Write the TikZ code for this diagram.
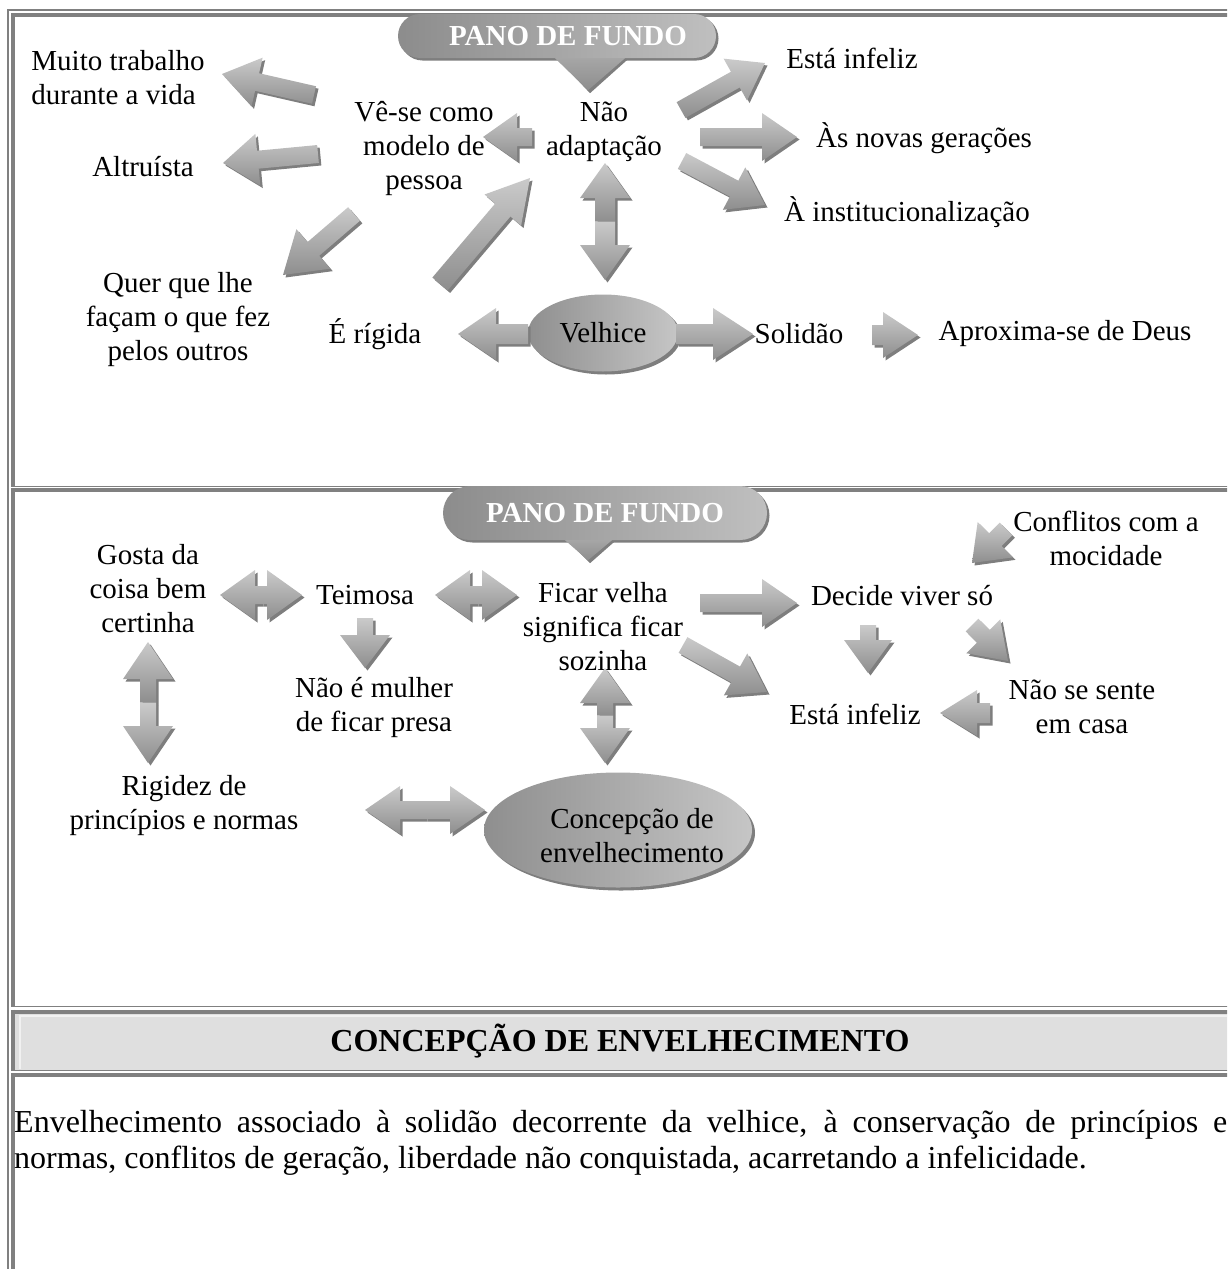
\documentclass[tikz,border=0pt]{standalone}
\usepackage{fontspec}
\setmainfont{Liberation Serif}
\usetikzlibrary{calc,shapes.geometric,shadows}

\definecolor{arrowlight}{HTML}{CACACA}
\definecolor{arrowdark}{HTML}{8E8E8E}
\definecolor{arrowshadow}{HTML}{7E7E7E}
\definecolor{bordergray}{HTML}{808080}
\definecolor{headfill}{HTML}{DFDFDF}

% block arrow: tail, tip, half shaft, half head, head length
\newcommand{\blkarrow}[5]{%
  \coordinate (ba-a) at #1;
  \coordinate (ba-b) at #2;
  \coordinate (ba-h) at ($(ba-b)!#5pt!(ba-a)$);
  \fill[arrowshadow,transform canvas={shift={(2.5pt,-2.5pt)}}] ($(ba-a)!#3pt!90:(ba-b)$) -- ($(ba-h)!#3pt!90:(ba-b)$) -- ($(ba-h)!#4pt!90:(ba-b)$) -- (ba-b) -- ($(ba-h)!#4pt!-90:(ba-b)$) -- ($(ba-h)!#3pt!-90:(ba-b)$) -- ($(ba-a)!#3pt!-90:(ba-b)$) -- cycle;
  \shade[top color=arrowlight,bottom color=arrowdark] ($(ba-a)!#3pt!90:(ba-b)$) -- ($(ba-h)!#3pt!90:(ba-b)$) -- ($(ba-h)!#4pt!90:(ba-b)$) -- (ba-b) -- ($(ba-h)!#4pt!-90:(ba-b)$) -- ($(ba-h)!#3pt!-90:(ba-b)$) -- ($(ba-a)!#3pt!-90:(ba-b)$) -- cycle;
}
% two heads, drawn from the middle outwards
\newcommand{\dblarrow}[5]{%
  \coordinate (da-a) at #1;
  \coordinate (da-b) at #2;
  \coordinate (da-m) at ($(da-a)!0.5!(da-b)$);
  \blkarrow{(da-m)}{(da-a)}{#3}{#4}{#5}
  \blkarrow{(da-m)}{(da-b)}{#3}{#4}{#5}
}
\hyphenpenalty=10000

\begin{document}
\begin{tikzpicture}[x=1pt,y=-1pt,
  lbl/.style={font=\fontsize{29}{34}\selectfont,align=center,inner sep=0pt},
  pill/.style={rounded corners=22pt,minimum width=318pt,minimum height=44pt,inner sep=0pt,
    left color=gray!90,right color=gray!50,text=white,font=\fontsize{29}{34}\selectfont\bfseries,
    drop shadow={shadow xshift=2.5pt,shadow yshift=-2.5pt,fill=arrowshadow,opacity=1}},
  oval/.style={ellipse,inner sep=0pt,left color=gray!88,right color=gray!45,
    font=\fontsize{29}{34}\selectfont,
    drop shadow={shadow xshift=3pt,shadow yshift=-3pt,fill=arrowshadow,opacity=1}}]
\useasboundingbox (0,0) rectangle (1227,1269);
% table frame
\begin{scope}
\clip (0,0) rectangle (1227,1269);
\draw[bordergray,line width=2pt] (8,1300) -- (8,10) -- (1300,10);
\fill[headfill] (15,1013.5) rectangle (1300,1069.5);
\draw[white!55!headfill,line width=1.5pt] (20,1069) -- (20,1016) -- (1300,1016);
\foreach \t/\b in {15/486.5,490/1006.5,1011.5/1070.5,1075/1300} {
  \draw[bordergray,line width=4pt] (11,\t) -- (1300,\t);
  \draw[bordergray,line width=4pt] (13,\t-2) -- (13,\b);
  \draw[bordergray,line width=1.5pt] (11,\b) -- (1300,\b);
}
\end{scope}

% first diagram
\node[pill] (pano1) at (557,36) {\hspace*{22pt}PANO DE FUNDO};
\fill[arrowshadow] ($(pano1.south)+(1,1)$) -- ($(pano1.south)+(71,1)$) -- ($(pano1.south)+(33,35)$) -- cycle;
\shade[top color=gray!70,bottom color=arrowdark] ($(pano1.south)+(-2,0)$) -- ($(pano1.south)+(68,0)$) -- ($(pano1.south)+(31,32)$) -- cycle;
\node[lbl] (nao) at (604,132) {Não\\adaptação};
\node[lbl] (vese) at (424,148) {Vê-se como\\modelo de\\pessoa};
\node[lbl,align=left] (muito) at (118,78) {Muito trabalho\\durante a vida};
\node[lbl] (altruista) at (143,167) {Altruísta};
\node[lbl] (quer) at (178,320) {Quer que lhe\\façam o que fez\\pelos outros};
\node[lbl] (rigida) at (375,334) {É rígida};
\node[oval,minimum width=150pt,minimum height=77pt] (velhice) at (603,333) {Velhice};
\node[lbl] (solidao) at (799,334) {Solidão};
\node[lbl] (deus) at (1065,334) {Aproxima-se de Deus};
\node[lbl] (infeliz) at (852,58) {Está infeliz};
\node[lbl] (novas) at (924,138) {Às novas gerações};
\node[lbl] (inst) at (907,212) {À institucionalização};
\blkarrow{($(nao)+(-72,5)$)}{($(vese)+(59,-11)$)}{9}{24}{34}
\blkarrow{($(vese)+(-110,-53)$)}{($(muito)+(104,-4)$)}{9}{25}{36}
\blkarrow{($(vese)+(-106,6)$)}{($(altruista)+(80,-4)$)}{9}{26}{35}
\blkarrow{($(vese)+(-70,66)$)}{($(quer)+(105,-45)$)}{9}{26}{40}
\blkarrow{($(rigida)+(65,-50)$)}{($(nao)+(-74,46)$)}{10}{24}{42}
\dblarrow{($(nao)+(1,31)$)}{($(velhice)+(2,-53)$)}{10}{25}{35}
\blkarrow{($(velhice)+(-75,1)$)}{($(rigida)+(83,0)$)}{10}{26}{38}
\blkarrow{($(velhice)+(73,1)$)}{($(solidao)+(-46,0)$)}{10}{26}{40}
\blkarrow{($(solidao)+(73,1)$)}{($(deus)+(-147,1)$)}{10}{23}{35}
\blkarrow{($(nao)+(77,-22)$)}{($(infeliz)+(-87,5)$)}{9}{24}{34}
\blkarrow{($(nao)+(96,5)$)}{($(novas)+(-127,-1)$)}{9}{24}{35}
\blkarrow{($(nao)+(78,29)$)}{($(inst)+(-142,-7)$)}{9}{24}{35}

% second diagram
\node[pill,minimum width=324pt,minimum height=54pt,rounded corners=27pt] (pano2) at (605,513) {PANO DE FUNDO};
\fill[arrowshadow] ($(pano2.south)+(-37,1)$) -- ($(pano2.south)+(10,1)$) -- ($(pano2.south)+(-15,23)$) -- cycle;
\shade[top color=gray!70,bottom color=arrowdark] ($(pano2.south)+(-40,0)$) -- ($(pano2.south)+(7,0)$) -- ($(pano2.south)+(-17,20)$) -- cycle;
\node[lbl] (ficar) at (603,627) {Ficar velha\\significa ficar\\sozinha};
\node[lbl] (teimosa) at (365,595) {Teimosa};
\node[lbl] (gosta) at (148,589) {Gosta da\\coisa bem\\certinha};
\node[lbl] (naoe) at (374,707) {Não é mulher\\de ficar presa};
\node[lbl] (rigidez) at (184,806) {Rigidez de\\princípios e normas};
\node[oval,minimum width=268pt,minimum height=115pt] (concepcao) at (618,830) {};
\node[lbl] (concepcaotxt) at (632,836) {Concepção de\\envelhecimento};
\node[lbl] (decide) at (902,596) {Decide viver só};
\node[lbl] (infeliz2) at (855,714) {Está infeliz};
\node[lbl] (conflitos) at (1106,538) {Conflitos com a\\mocidade};
\node[lbl] (naosente) at (1082,707) {Não se sente\\em casa};
\dblarrow{($(gosta)+(72,6)$)}{($(teimosa)+(-63,0)$)}{9}{25}{35}
\dblarrow{($(teimosa)+(70,0)$)}{($(ficar)+(-86,-32)$)}{9}{25}{35}
\blkarrow{($(teimosa)+(0,23)$)}{($(naoe)+(-9,-39)$)}{8}{25}{33}
\dblarrow{($(gosta)+(0,53)$)}{($(rigidez)+(-36,-43)$)}{8}{25}{37}
\dblarrow{($(rigidez)+(181,4)$)}{($(concepcao)+(-133,-20)$)}{9}{24}{35}
\dblarrow{($(ficar)+(2,41)$)}{($(concepcao)+(-13,-67)$)}{8}{25}{35}
\blkarrow{($(ficar)+(97,-24)$)}{($(decide)+(-105,7)$)}{9}{24}{35}
\blkarrow{($(ficar)+(80,18)$)}{($(infeliz2)+(-88,-22)$)}{9}{24}{36}
\blkarrow{($(conflitos)+(-100,-9)$)}{($(decide)+(70,-33)$)}{9}{25}{33}
\blkarrow{($(decide)+(70,29)$)}{($(naosente)+(-74,-46)$)}{9}{24}{35}
\blkarrow{($(decide)+(-34,29)$)}{($(infeliz2)+(13,-41)$)}{8}{24}{33}
\blkarrow{($(naosente)+(-92,6)$)}{($(infeliz2)+(85,-1)$)}{10}{23}{37}

% heading and summary
\node[font=\fontsize{32}{38}\selectfont\bfseries] (titulo) at (620,1041) {CONCEPÇÃO DE ENVELHECIMENTO};
\node[font=\fontsize{32}{36}\selectfont,text width=1213pt,align=justify,inner sep=0pt,anchor=north west] (resumo) at (14,1110)
  {Envelhecimento associado à solidão decorrente da velhice, à conservação de princípios e\linebreak normas, conflitos de geração, liberdade não conquistada, acarretando a infelicidade.};
\end{tikzpicture}
\end{document}
